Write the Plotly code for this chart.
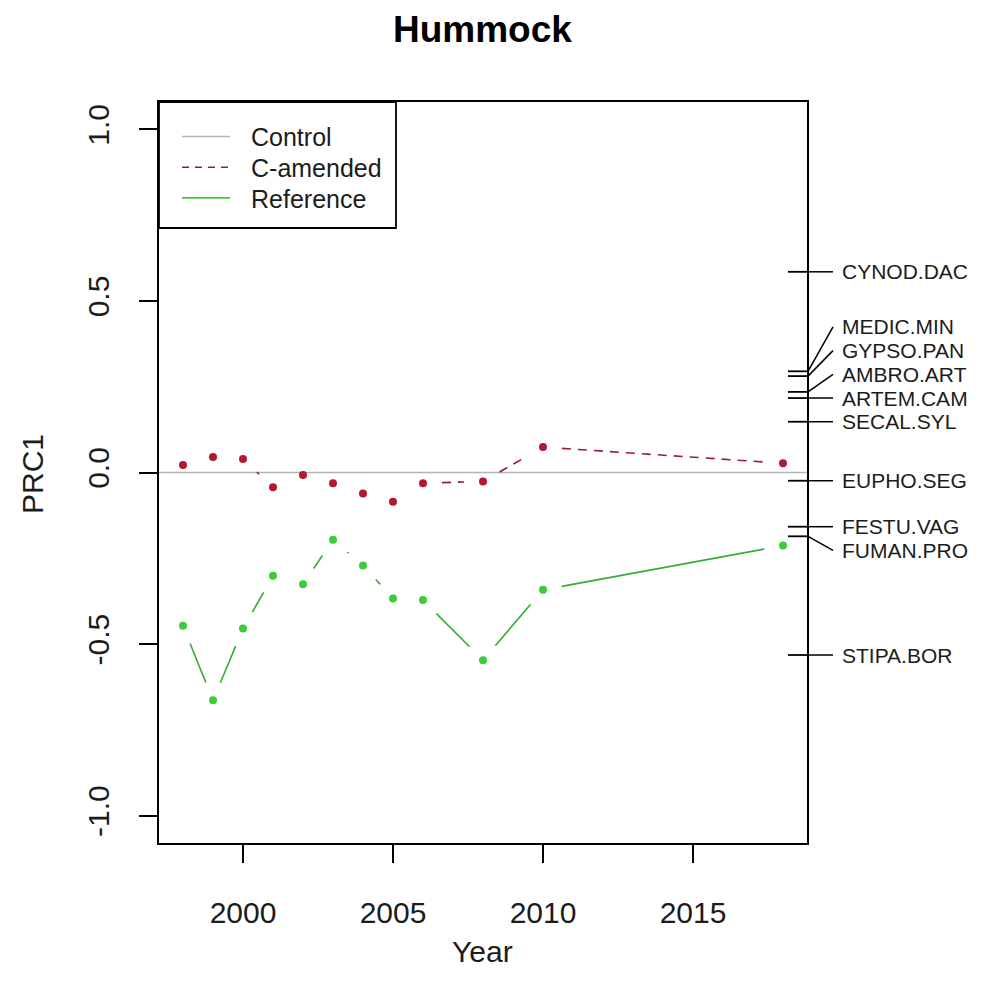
import math
import plotly.graph_objects as go

# ---------------- data ----------------
years = [1998, 1999, 2000, 2001, 2002, 2003, 2004, 2005, 2006, 2008, 2010, 2018]
c_amended = [0.022, 0.045, 0.039, -0.043, -0.007, -0.031, -0.061, -0.085, -0.031, -0.026, 0.074, 0.027]
reference = [-0.447, -0.664, -0.455, -0.301, -0.326, -0.196, -0.271, -0.367, -0.372, -0.547, -0.342, -0.213]

species = ["CYNOD.DAC", "MEDIC.MIN", "GYPSO.PAN", "AMBRO.ART", "ARTEM.CAM",
           "SECAL.SYL", "EUPHO.SEG", "FESTU.VAG", "FUMAN.PRO", "STIPA.BOR"]
species_scores = [0.585, 0.295, 0.281, 0.235, 0.217, 0.148, -0.024, -0.158, -0.186, -0.532]

legend_names = ["Control", "C-amended", "Reference"]
x_ticks = [2000, 2005, 2010, 2015]
y_ticks = [-1.0, -0.5, 0.0, 0.5, 1.0]
y_ticktext = ["-1.0", "-0.5", "0.0", "0.5", "1.0"]

title = "Hummock"
x_title = "Year"
y_title = "PRC1"

# ---------------- layout geometry (screen pixels) ----------------
OFF = 8  # default page body margin
W, H = 1001 - OFF, 999 - OFF
L, R, T, B = 159, 807, 102, 843  # plot box on screen
XR = [1997.2, 2018.8]
YR = [-1.08, 1.08]
PX_X = (R - L) / (XR[1] - XR[0])
PX_Y = (B - T) / (YR[1] - YR[0])

COL_CTRL = "#B4B4B4"
COL_RED_PT = "#B3182C"
COL_RED_LN = "#9A1E2A"
COL_GRN_PT = "#3BCB3B"
COL_GRN_LN = "#36AC36"
FONT = "Liberation Sans, Arial, sans-serif"
TXT = "#1c1c1c"


def px_to_paper_x(px):
    return (px - L) / (R - L)


def px_to_paper_y(py):
    return (B - py) / (B - T)


def gapped(xs, ys, gap=19.0):
    """Emulate R type='b': line segments shortened around each point."""
    ox, oy = [], []
    for i in range(len(xs) - 1):
        dx = (xs[i + 1] - xs[i]) * PX_X
        dy = (ys[i + 1] - ys[i]) * PX_Y
        ln = math.hypot(dx, dy)
        if ln <= 2 * gap:
            continue
        f = gap / ln
        ox += [xs[i] + (xs[i + 1] - xs[i]) * f, xs[i + 1] - (xs[i + 1] - xs[i]) * f, None]
        oy += [ys[i] + (ys[i + 1] - ys[i]) * f, ys[i + 1] - (ys[i + 1] - ys[i]) * f, None]
    return ox, oy


def linestack(scores, ht):
    """vegan::linestack label positions."""
    order = sorted(range(len(scores)), key=lambda k: scores[k])
    xs = [scores[k] for k in order]
    n = len(xs)
    pos = [0.0] * n
    mid = (n + 1) // 2 - 1
    pos[mid] = xs[mid]
    for i in range(mid + 1, n):
        pos[i] = max(xs[i], pos[i - 1] + ht)
    for i in range(mid - 1, -1, -1):
        pos[i] = min(xs[i], pos[i + 1] - ht)
    out = [0.0] * n
    for j, k in enumerate(order):
        out[k] = pos[j]
    return out


fig = go.Figure()

# C-amended
gx, gy = gapped(years, c_amended)
fig.add_trace(go.Scatter(x=gx, y=gy, mode="lines", line=dict(color=COL_RED_LN, width=1.6, dash="9px,7px"),
                         showlegend=False, hoverinfo="skip"))
fig.add_trace(go.Scatter(x=years, y=c_amended, mode="markers", name=legend_names[1],
                         marker=dict(color=COL_RED_PT, size=8), showlegend=False))
# Reference
gx, gy = gapped(years, reference)
fig.add_trace(go.Scatter(x=gx, y=gy, mode="lines", line=dict(color=COL_GRN_LN, width=1.6),
                         showlegend=False, hoverinfo="skip"))
fig.add_trace(go.Scatter(x=years, y=reference, mode="markers", name=legend_names[2],
                         marker=dict(color=COL_GRN_PT, size=8), showlegend=False))

shapes = []
# control baseline (abline h=0)
shapes.append(dict(type="line", xref="paper", yref="y", x0=0, x1=1, y0=0, y1=0,
                   line=dict(color=COL_CTRL, width=1.6), layer="below"))

# species linestack on right
ht = 23.7 / PX_Y
label_pos = linestack(species_scores, ht)
annotations = []
for name, sc, lp in zip(species, species_scores, label_pos):
    ys = px_to_paper_y(B - (sc - YR[0]) * PX_Y)
    yl = px_to_paper_y(B - (lp - YR[0]) * PX_Y)
    shapes.append(dict(type="line", xref="paper", yref="paper",
                       x0=px_to_paper_x(788), x1=px_to_paper_x(808), y0=ys, y1=ys,
                       line=dict(color="black", width=1.8)))
    shapes.append(dict(type="line", xref="paper", yref="paper",
                       x0=px_to_paper_x(808), x1=px_to_paper_x(833), y0=ys, y1=yl,
                       line=dict(color="black", width=1.5)))
    annotations.append(dict(text=name, xref="paper", yref="paper", x=px_to_paper_x(840), y=yl,
                            xanchor="left", yanchor="middle", showarrow=False,
                            font=dict(family=FONT, size=21, color=TXT)))

# legend (R style, top-left)
shapes.append(dict(type="rect", xref="paper", yref="paper",
                   x0=px_to_paper_x(159), x1=px_to_paper_x(396),
                   y0=px_to_paper_y(228), y1=px_to_paper_y(T),
                   line=dict(color="black", width=1.8), fillcolor="rgba(0,0,0,0)"))
leg_styles = [(COL_CTRL, "solid"), (COL_RED_LN, "7px,6px"), (COL_GRN_PT, "solid")]
for i, (nm, (col, dsh)) in enumerate(zip(legend_names, leg_styles)):
    py = 136.5 + 30.7 * i
    shapes.append(dict(type="line", xref="paper", yref="paper",
                       x0=px_to_paper_x(182), x1=px_to_paper_x(230),
                       y0=px_to_paper_y(py), y1=px_to_paper_y(py),
                       line=dict(color=col, width=1.6, dash=dsh)))
    annotations.append(dict(text=nm, xref="paper", yref="paper", x=px_to_paper_x(249),
                            y=px_to_paper_y(py + 1), xanchor="left", yanchor="middle",
                            showarrow=False, font=dict(family=FONT, size=25, color=TXT)))

# titles
annotations.append(dict(text="<b>%s</b>" % title, xref="paper", yref="paper",
                        x=px_to_paper_x(482), y=px_to_paper_y(29), xanchor="center", yanchor="middle",
                        showarrow=False, font=dict(family=FONT, size=37, color="black")))
annotations.append(dict(text=x_title, xref="paper", yref="paper",
                        x=px_to_paper_x(482), y=px_to_paper_y(951), xanchor="center", yanchor="middle",
                        showarrow=False, font=dict(family=FONT, size=30, color=TXT)))
annotations.append(dict(text=y_title, xref="paper", yref="paper", textangle=-90,
                        x=px_to_paper_x(32), y=px_to_paper_y(474), xanchor="center", yanchor="middle",
                        showarrow=False, font=dict(family=FONT, size=30, color=TXT)))

fig.update_layout(
    width=W, height=H,
    margin=dict(l=L - OFF, r=W - (R - OFF), t=T - OFF, b=H - (B - OFF), pad=0),
    paper_bgcolor="white", plot_bgcolor="white",
    showlegend=False,
    shapes=shapes, annotations=annotations,
    xaxis=dict(range=XR, tickvals=x_ticks, ticks="outside", ticklen=18, tickwidth=2, tickcolor="black",
               showline=True, linecolor="black", linewidth=2, mirror=True, showgrid=False, zeroline=False,
               tickfont=dict(family=FONT, size=30, color=TXT), ticklabelstandoff=24),
    yaxis=dict(range=YR, tickvals=y_ticks, ticktext=y_ticktext, tickangle=-90, ticks="outside", ticklen=18,
               tickwidth=2, tickcolor="black", showline=True, linecolor="black", linewidth=2, mirror=True,
               showgrid=False, zeroline=False, tickfont=dict(family=FONT, size=30, color=TXT),
               ticklabelstandoff=18),
)

fig.write_html("out.html")
